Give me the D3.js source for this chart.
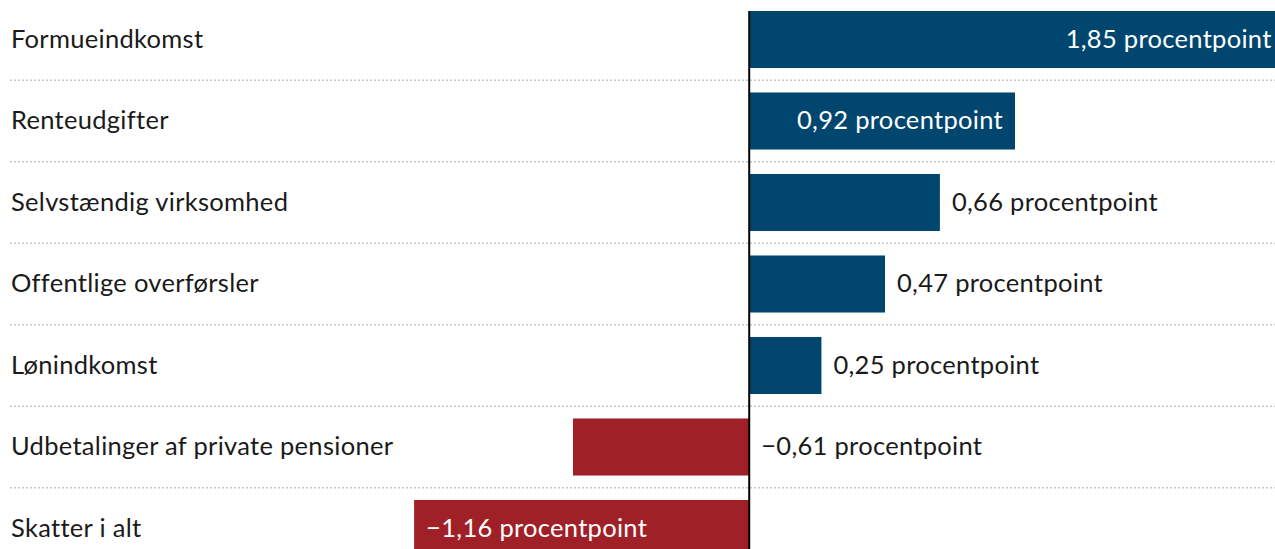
<!DOCTYPE html>
<html>
<head>
<meta charset="utf-8">
<script src="https://cdn.jsdelivr.net/npm/d3@7"></script>
<style>
  body { margin: 0; background: #fff; }
  svg { display: block; font-family: Lato, "Noto Sans", sans-serif; }
</style>
</head>
<body>
<div id="chart"></div>
<script>
// data
const categories = [
  "Formueindkomst",
  "Renteudgifter",
  "Selvstændig virksomhed",
  "Offentlige overførsler",
  "Lønindkomst",
  "Udbetalinger af private pensioner",
  "Skatter i alt"
];
const values = [1.85, 0.92, 0.66, 0.47, 0.25, -0.61, -1.16];
const unit = "procentpoint";

//--------------------------SVG---------------------------//
const width = 1275;
const height = 549;
const fontSize = 25.5;

const svg = d3.select("#chart").append("svg")
  .attr("width", width)
  .attr("height", height);

//-------------------------SCALES-------------------------//
const xScale = d3.scaleLinear()
  .domain([-2.5, 1.82])
  .range([27, width]);

const rowScale = d3.scaleBand()
  .domain(categories)
  .range([-1.25, 569.25])
  .padding(0);

const step = rowScale.step();
const barH = step * 0.7;

const fmt = v => (v < 0 ? "\u2212" : "") + d3.format(".2f")(Math.abs(v)).replace(".", ",") + " " + unit;

const rows = categories.map((c, i) => ({ name: c, val: values[i] }));

//---------------------DOTTED LINES-----------------------//
svg.append("g")
  .selectAll("line")
  .data(categories.slice(0, -1))
  .join("line")
  .attr("x1", 10)
  .attr("x2", width)
  .attr("y1", d => rowScale(d) + step)
  .attr("y2", d => rowScale(d) + step)
  .attr("stroke", "#c8c8c8")
  .attr("stroke-width", 1.5)
  .attr("stroke-dasharray", "2,2");

//-------------------------BARS---------------------------//
svg.append("g")
  .selectAll("rect")
  .data(rows)
  .join("rect")
  .attr("x", d => xScale(Math.min(0, d.val)))
  .attr("width", d => Math.abs(xScale(d.val) - xScale(0)))
  .attr("y", d => rowScale(d.name) + (step - barH) / 2)
  .attr("height", barH)
  .attr("fill", d => d.val >= 0 ? "#01466f" : "#9f2027");

//------------------------ZERO LINE-----------------------//
svg.append("line")
  .attr("x1", xScale(0))
  .attr("x2", xScale(0))
  .attr("y1", rowScale(categories[0]) + (step - barH) / 2)
  .attr("y2", height)
  .attr("stroke", "#000")
  .attr("stroke-width", 2);

//----------------------CATEGORY LABELS-------------------//
svg.append("g")
  .selectAll("text")
  .data(rows)
  .join("text")
  .attr("x", 11)
  .attr("y", d => rowScale(d.name) + step / 2 + 8)
  .attr("font-size", fontSize)
  .attr("letter-spacing", 0.3)
  .attr("fill", "#1a1a1a")
  .text(d => d.name);

//-----------------------VALUE LABELS---------------------//
const inside = d => Math.abs(d.val) > 0.8;

svg.append("g")
  .selectAll("text")
  .data(rows)
  .join("text")
  .attr("x", d => {
    if (inside(d)) return d.val > 0 ? xScale(d.val) - 12 : xScale(d.val) + 12;
    return d.val > 0 ? xScale(d.val) + 12 : xScale(0) + 12;
  })
  .attr("y", d => rowScale(d.name) + step / 2 + 8)
  .attr("text-anchor", d => (inside(d) && d.val > 0) ? "end" : "start")
  .attr("font-size", fontSize)
  .attr("letter-spacing", 0.3)
  .attr("fill", d => inside(d) ? "#fff" : "#1a1a1a")
  .text(d => fmt(d.val));
</script>
</body>
</html>
